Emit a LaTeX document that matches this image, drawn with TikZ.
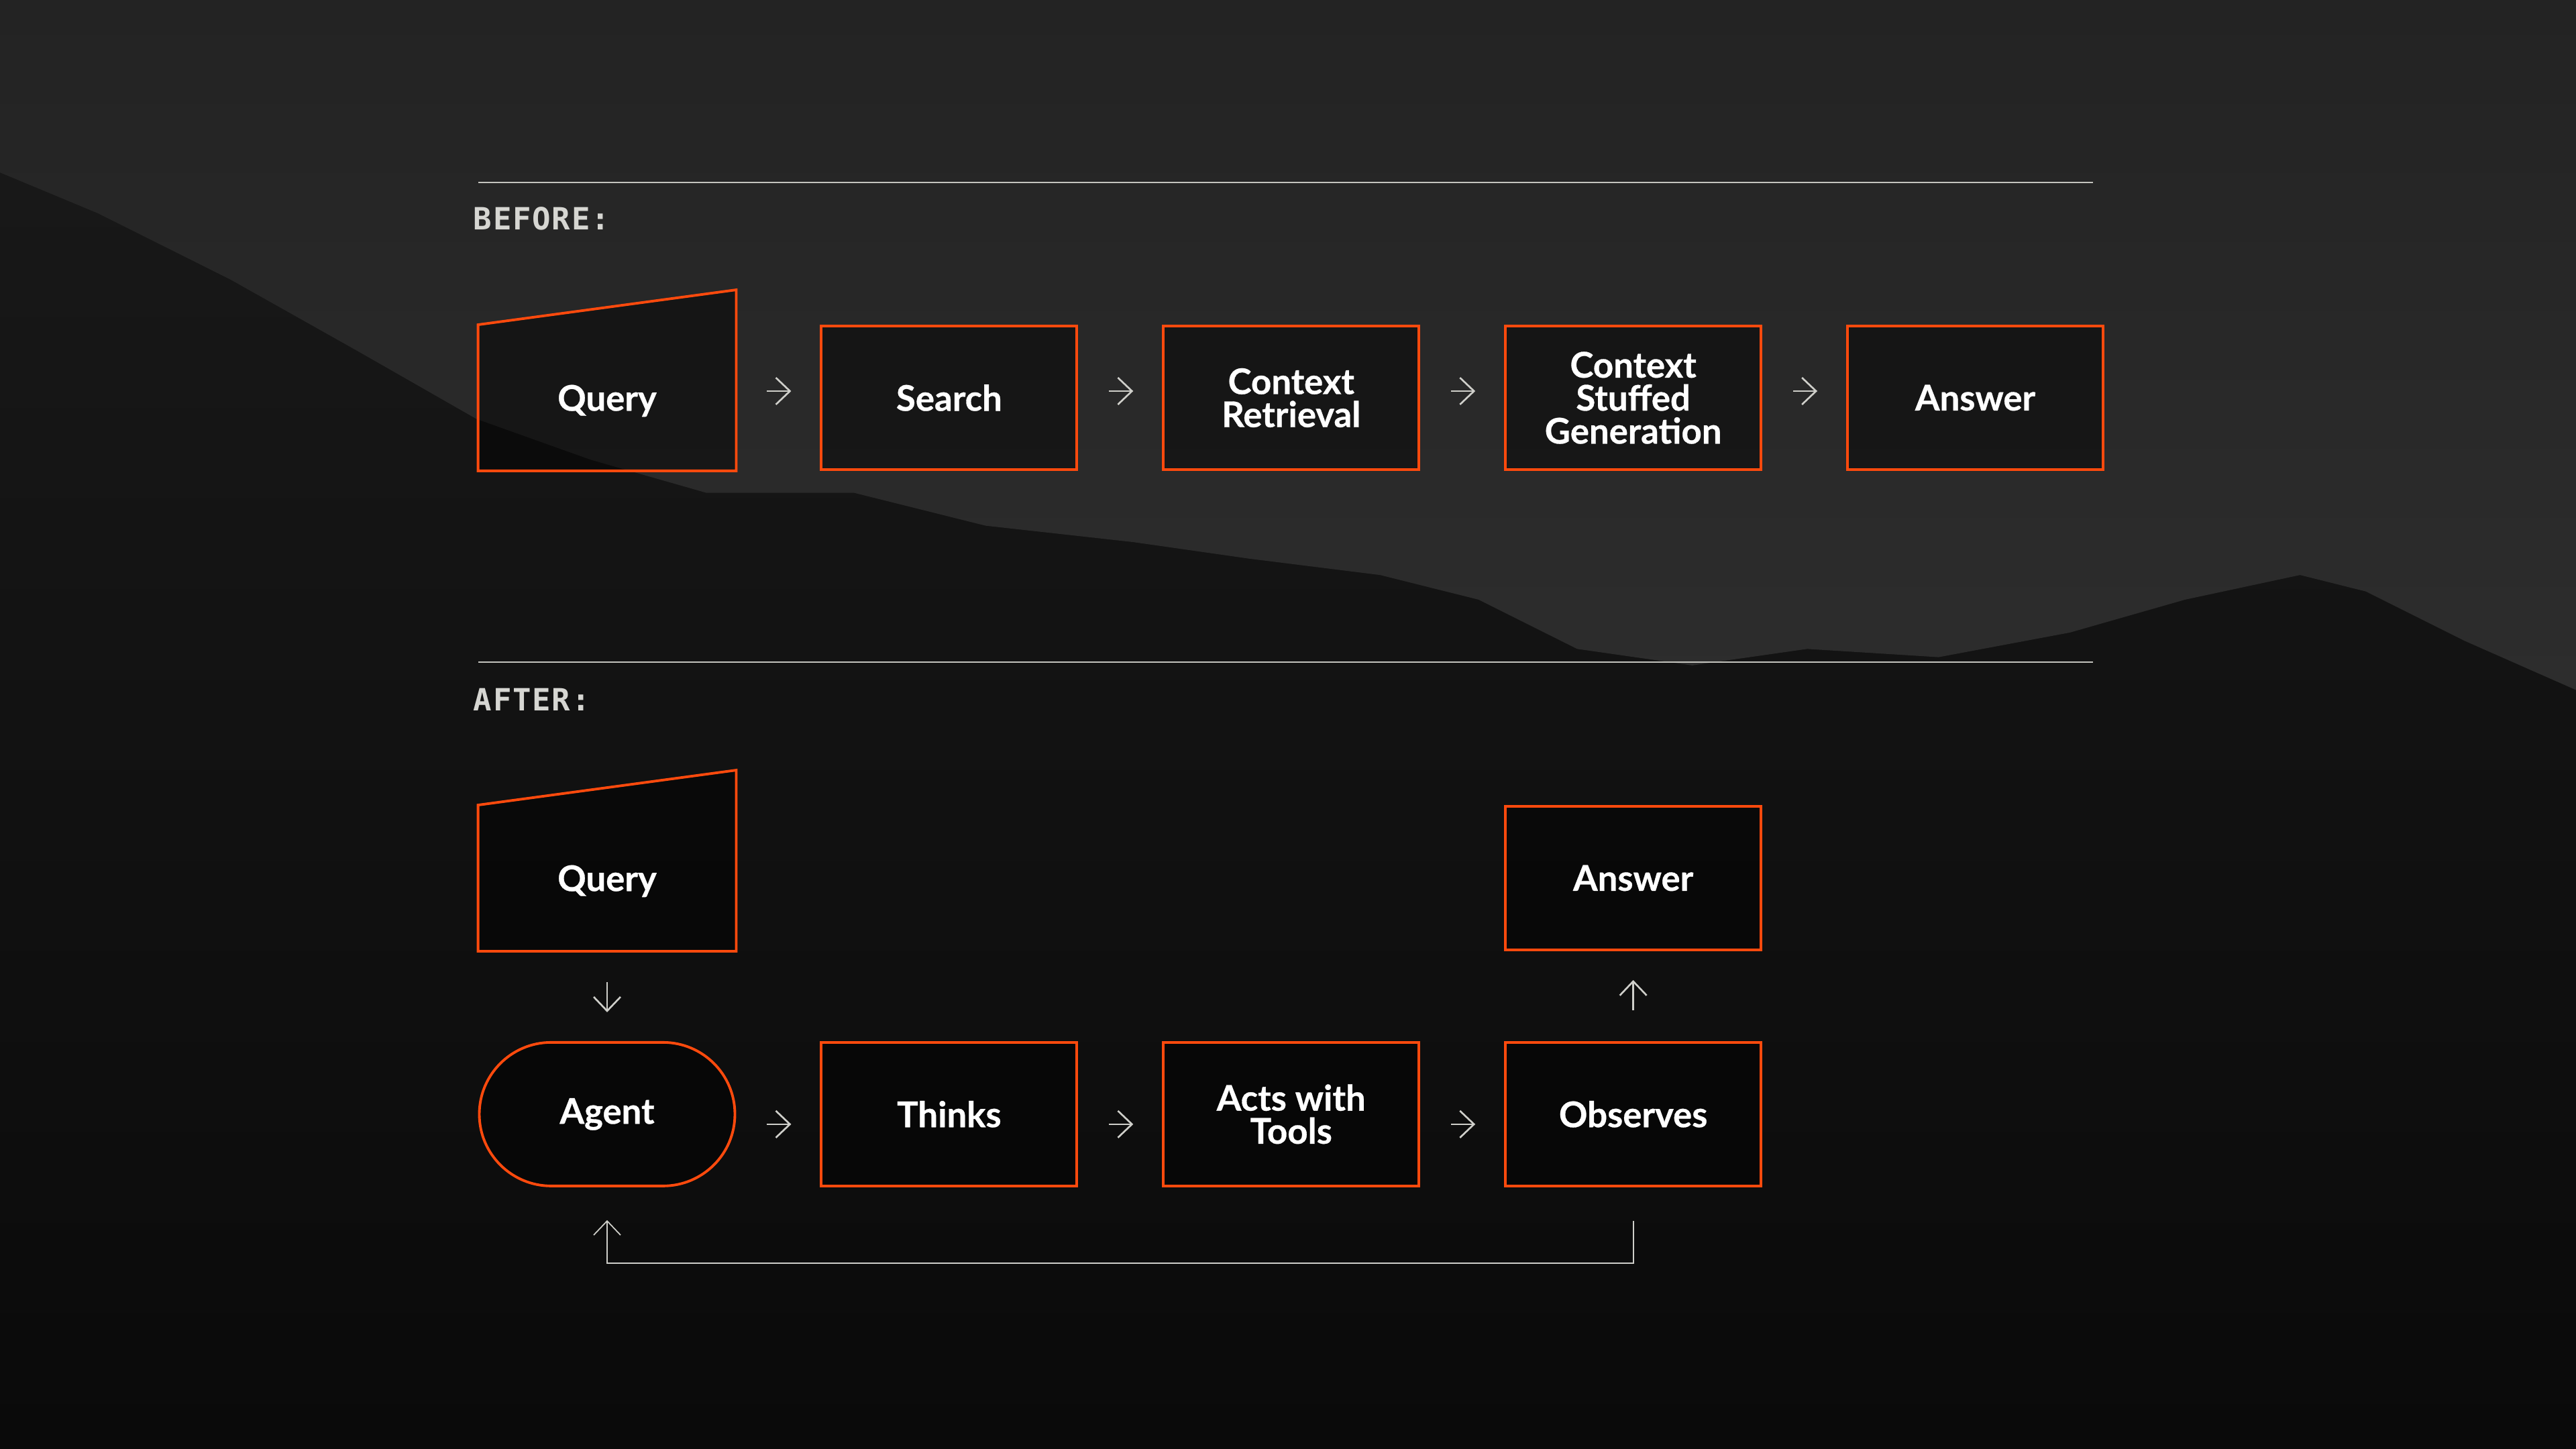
\documentclass[tikz,border=0pt]{standalone}
\usepackage{fontspec}
\usetikzlibrary{positioning,arrows.meta,backgrounds}
\newfontfamily\labelfont[BoldFeatures={FakeBold=0.6}]{Lato}
\newfontfamily\headfont[LetterSpace=4]{DejaVu Sans Mono}
\definecolor{accent}{HTML}{FF4A0D}
\definecolor{arrowgray}{HTML}{CFCFCA}
\definecolor{rulegray}{HTML}{C4C4BE}
\definecolor{headgray}{HTML}{D6D6D2}
\definecolor{skytop}{HTML}{232323}
\definecolor{skylow}{HTML}{2D2D2D}
\definecolor{hilltop}{HTML}{1A1A1A}
\definecolor{ground}{HTML}{0A0A0A}

\begin{document}
\begin{tikzpicture}[
        stepbox/.style={rectangle, draw=accent, line width=1.1pt, fill=black, fill opacity=0.45, text opacity=1, text=white, minimum width=3.81cm, minimum height=2.14cm, align=center, font=\labelfont\bfseries\fontsize{15}{14}\selectfont},
        agentbox/.style={stepbox, rounded corners=1.07cm},
        qbox/.style={stepbox, draw=none, fill=none, text depth=0pt},
        qline/.style={draw=accent, line width=1.1pt, fill=black, fill opacity=0.45},
        flow/.style={-{Straight Barb[length=2.1mm, width=4mm]}, arrowgray, line width=0.75pt, shorten <=4.6mm, shorten >=4.3mm},
        backflow/.style={flow, line width=0.5pt, shorten <=5mm, shorten >=4.9mm},
        sepline/.style={rulegray, line width=0.5pt},
        heading/.style={anchor=west, inner sep=0pt, text=headgray, font=\headfont\bfseries\fontsize{13}{13}\selectfont}
    ]
    \useasboundingbox (0,0) rectangle (38.4,-21.6);

    % Fundo com a montanha
    \begin{scope}[on background layer]
        \shade[top color=hilltop, bottom color=ground] (0,0) rectangle (38.4,-21.6);
        \begin{scope}[x=0.02449cm, y=-0.02449cm]
            \shade[top color=skytop, bottom color=skylow] (0,0) -- (0,105) -- (60,130) -- (140,170) -- (220,215) -- (290,255) -- (360,280) -- (430,300) -- (520,300) -- (600,320) -- (690,330) -- (760,340) -- (840,350) -- (900,365) -- (960,395) -- (1030,405) -- (1100,395) -- (1180,400) -- (1260,385) -- (1330,365) -- (1400,350) -- (1440,360) -- (1500,390) -- (1568,420) -- (1568,0) -- cycle;
        \end{scope}
    \end{scope}

    % Linhas e títulos
    \draw[sepline] (7.13,-2.72) -- (31.20,-2.72);
    \draw[sepline] (7.13,-9.87) -- (31.20,-9.87);
    \node[heading] (bef) at (7.05,-3.26) {BEFORE:};
    \node[heading] (aft) at (7.05,-10.43) {AFTER:};

    % Antes
    \node[qbox] (q1) at (9.05,-5.93) {Query};
    \node[stepbox, right=1.25cm of q1] (s1) {Search};
    \node[stepbox, right=1.25cm of s1] (cr1) {Context\\Retrieval};
    \node[stepbox, right=1.25cm of cr1] (csg1) {Context\\Stuffed\\Generation};
    \node[stepbox, right=1.25cm of csg1] (a1) {Answer};

    \draw[flow] ([yshift=1mm]q1.east) -- ([yshift=1mm]s1.west);
    \draw[flow] ([yshift=1mm]s1.east) -- ([yshift=1mm]cr1.west);
    \draw[flow] ([yshift=1mm]cr1.east) -- ([yshift=1mm]csg1.west);
    \draw[flow] ([yshift=1mm]csg1.east) -- ([yshift=1mm]a1.west);

    % Depois
    \node[qbox] (q2) at (9.05,-13.09) {Query};
    \node[agentbox, below=1.34cm of q2] (ag) {Agent};
    \node[stepbox, right=1.25cm of ag] (th) {Thinks};
    \node[stepbox, right=1.25cm of th] (act) {Acts with\\Tools};
    \node[stepbox, right=1.25cm of act] (ob) {Observes};
    \node[stepbox, above=1.34cm of ob] (a2) {Answer};

    \draw[flow] (q2.south) -- (ag.north);
    \draw[flow] ([yshift=-1.5mm]ag.east) -- ([yshift=-1.5mm]th.west);
    \draw[flow] ([yshift=-1.5mm]th.east) -- ([yshift=-1.5mm]act.west);
    \draw[flow] ([yshift=-1.5mm]act.east) -- ([yshift=-1.5mm]ob.west);
    \draw[flow] (ob.north) -- (a2.south);
    \draw[backflow] (ob.south) -- ++(0,-1.13) -| (ag.south);

    % Caixas de entrada (Query)
    \begin{scope}[on background layer]
        \draw[qline] (q1.south west) -- (q1.south east) -- ([yshift=5.2mm]q1.north east) -- (q1.north west) -- cycle;
        \draw[qline] (q2.south west) -- (q2.south east) -- ([yshift=5.2mm]q2.north east) -- (q2.north west) -- cycle;
    \end{scope}

\end{tikzpicture}
\end{document}
